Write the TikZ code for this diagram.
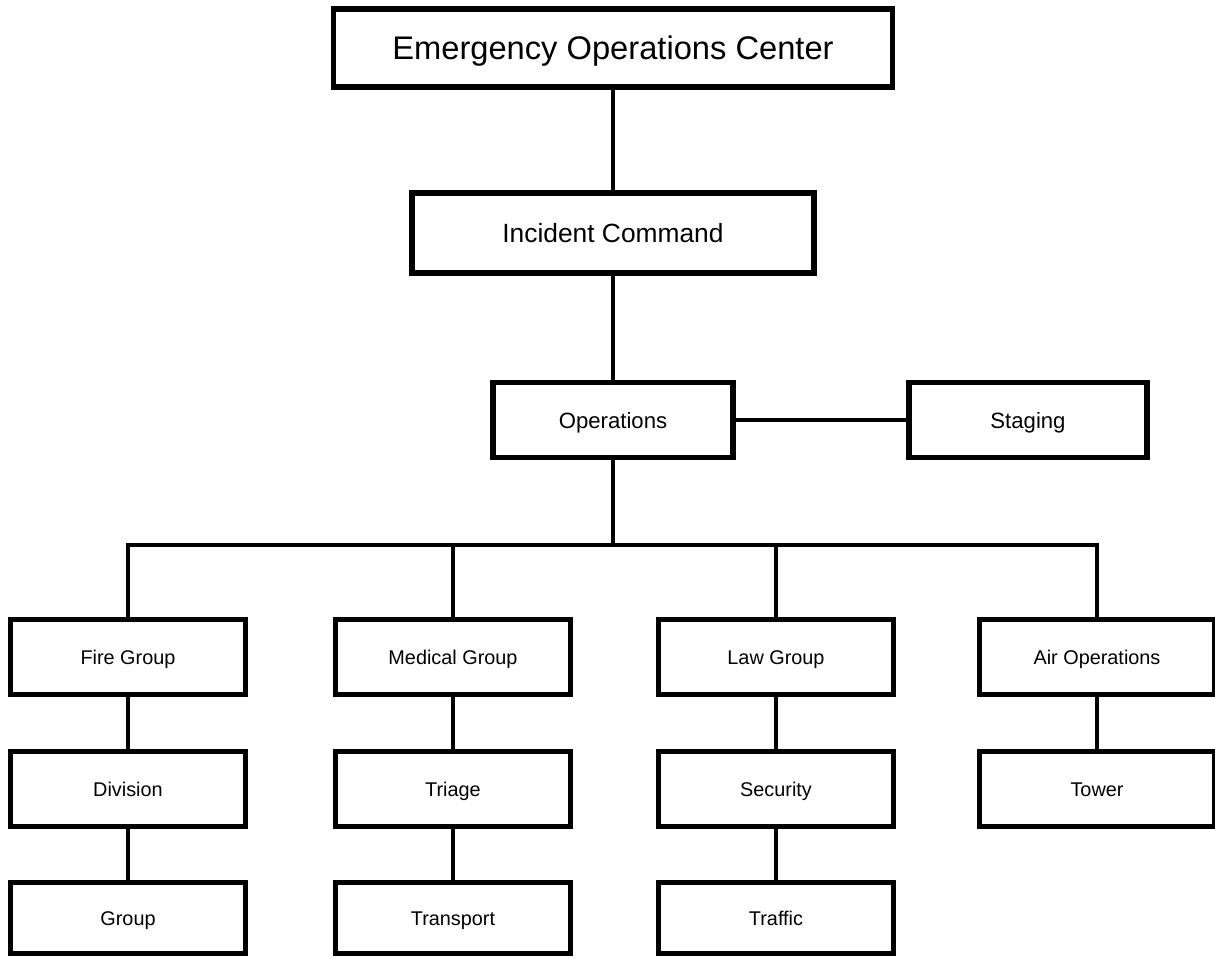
\documentclass[tikz,border=0pt]{standalone}
\usepackage{fontspec}
\setmainfont{Liberation Sans}
\usetikzlibrary{positioning}

\tikzset{
  unit/.style={x=0.02cm, y=-0.02cm},
  box/.style={draw, line width=3.1pt, fill=white, inner sep=0pt, align=center, text depth=0pt},
  bigbox/.style={box, font=\fontsize{18.6}{20}\selectfont, text height=13.4pt},
  midbox/.style={box, font=\fontsize{15}{18}\selectfont, text height=10.8pt},
  opbox/.style={box, font=\fontsize{12.6}{14}\selectfont, text height=9.1pt, minimum width=4.8cm, minimum height=1.5cm},
  unitbox/.style={box, font=\fontsize{11.3}{13}\selectfont, text height=8.1pt, minimum width=4.7cm, minimum height=1.5cm},
  link/.style={line width=2pt}
}

\begin{document}
\begin{tikzpicture}[unit]

\path [use as bounding box] (0,0) rectangle (1215,958);

% TOP
\node [bigbox, minimum width=11.18cm, minimum height=1.56cm] (eoc) at (613,48) {Emergency Operations Center};
\node [midbox, minimum width=8.04cm, minimum height=1.6cm] (ic) at (613,233) {Incident Command};
\node [opbox] (ops) at (613,420) {Operations};
\node [opbox, minimum width=4.76cm] (stage) at (1028,420) {Staging};

% GROUPS
\node [unitbox] (fire) at (128,657) {Fire Group};
\node [unitbox] (med) at (453,657) {Medical Group};
\node [unitbox] (law) at (776,657) {Law Group};
\node [unitbox] (air) at (1097,657) {Air Operations};

% UNITS
\node [unitbox] (div) at (128,789) {Division};
\node [unitbox] (tri) at (453,789) {Triage};
\node [unitbox] (sec) at (776,789) {Security};
\node [unitbox] (tow) at (1097,789) {Tower};

\node [unitbox, minimum height=1.42cm] (grp) at (128,918) {Group};
\node [unitbox, minimum height=1.42cm] (trans) at (453,918) {Transport};
\node [unitbox, minimum height=1.42cm] (traf) at (776,918) {Traffic};

% LINKS
\coordinate (bus) at (613,545);
\draw [link] (eoc) -- (ic);
\draw [link] (ic) -- (ops);
\draw [link] (ops) -- (stage);
\draw [link] (ops) -- (bus);
\draw [link] (fire.north) |- (bus) -| (air.north);
\draw [link] (med.north) -- (med.north |- bus);
\draw [link] (law.north) -- (law.north |- bus);
\draw [link] (fire) -- (div);
\draw [link] (div) -- (grp);
\draw [link] (med) -- (tri);
\draw [link] (tri) -- (trans);
\draw [link] (law) -- (sec);
\draw [link] (sec) -- (traf);
\draw [link] (air) -- (tow);

\end{tikzpicture}
\end{document}
